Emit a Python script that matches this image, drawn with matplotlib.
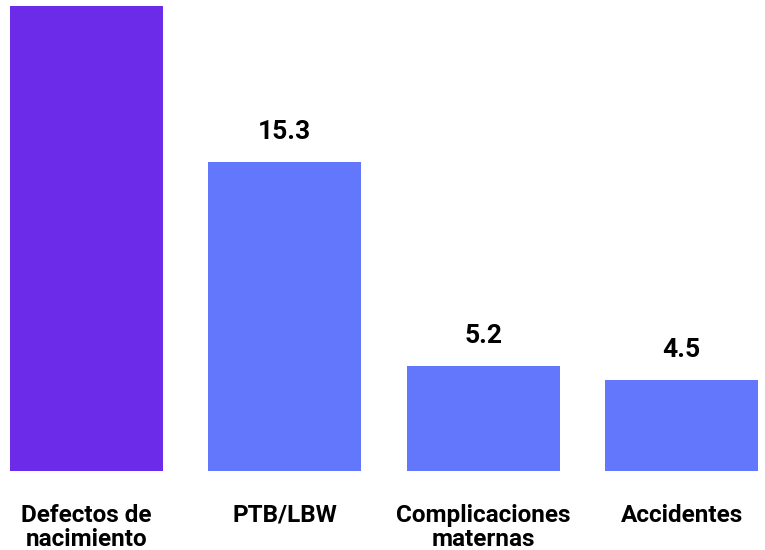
import matplotlib
matplotlib.use('Agg')
import matplotlib.pyplot as plt

categories = ['Defectos de\nnacimiento', 'PTB/LBW', 'Complicaciones\nmaternas', 'Accidentes']
values = [23.0, 15.3, 5.2, 4.5]
colors = ['#6C2AE9', '#6377FD', '#6377FD', '#6377FD']

plt.rcParams['font.family'] = ['Roboto', 'DejaVu Sans']

fig = plt.figure(figsize=(7.65, 5.5), dpi=100)
ax = fig.add_axes([0, 0.1436, 1, 0.8564])

x = range(len(categories))
bars = ax.bar(x, values, width=0.77, color=colors)

ax.set_xlim(-0.435, 3.42)
ax.set_ylim(0, 23.3)

# first bar's label sits above the canvas in the original, so skip it
for b, v in zip(bars[1:], values[1:]):
    ax.annotate(f'{v:.1f}', (b.get_x() + b.get_width() / 2, v),
                xytext=(0, 13), textcoords='offset points',
                ha='center', va='bottom', fontsize=19, fontweight='bold')

ax.set_xticks(list(x))
ax.set_xticklabels(categories, fontsize=17.5, fontweight='bold', linespacing=1.05)
ax.tick_params(axis='x', length=0, pad=23.5)
ax.set_yticks([])
for s in ax.spines.values():
    s.set_visible(False)

plt.savefig('out.png', dpi=100)
